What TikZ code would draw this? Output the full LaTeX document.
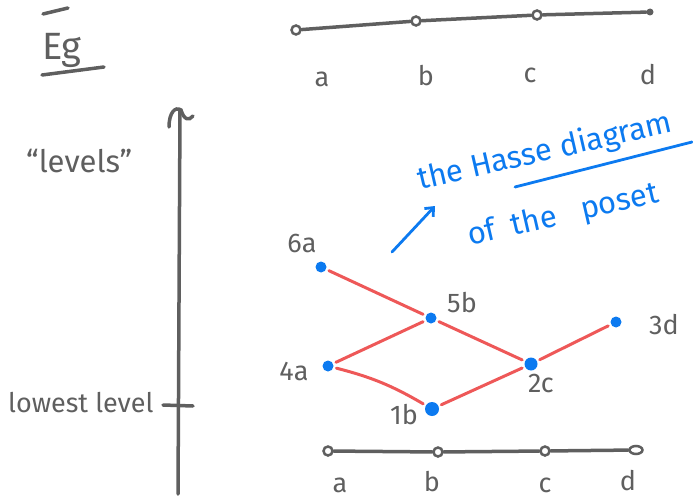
\documentclass[tikz,border=0pt]{standalone}
\usepackage{fontspec}
\setmainfont{Fira Sans}
\usepackage{xcolor}
\usetikzlibrary{arrows.meta,positioning,shapes.geometric}
\definecolor{pen}{RGB}{95,95,95}
\definecolor{inkblue}{RGB}{12,122,240}
\definecolor{inkred}{RGB}{238,88,88}

\begin{document}
\begin{tikzpicture}[x=1pt, y=-1pt,
    hand/.style={text=pen, inner sep=0, font=\fontsize{27}{30}\selectfont},
    note/.style={text=inkblue, inner sep=0, rotate=13, anchor=base west,
                 font=\fontsize{31}{34}\selectfont},
    tick/.style={circle, draw=pen, line width=2.5pt, inner sep=0, minimum size=9pt},
    pt/.style={circle, fill=inkblue, inner sep=0, minimum size=11pt},
    pen line/.style={pen, line width=3.5pt, line cap=round},
    rel/.style={inkred, line width=3pt, line cap=round, shorten <=3pt, shorten >=3pt}]

    \useasboundingbox (0,0) rectangle (693,500);

    % heading and the levels axis
    \node[hand, font=\fontsize{38}{40}\selectfont, anchor=base west] (eg) at (42,60) {Eg};
    \draw[pen line] (43,14) -- (68,8);
    \draw[pen line] (42,75) -- (104,67);
    \node[hand, font=\fontsize{31}{34}\selectfont, anchor=base west] (levels) at (26,172) {“levels”};
    \node[hand, anchor=base west] (lowest) at (8,412) {lowest level};
    \coordinate (axtop) at (180,110);
    \coordinate (axbot) at (178,494);
    \draw[pen line] (axbot) -- (axtop);
    \draw[pen line] (169,127) .. controls (169,113) and (175,106) .. (181,110)
                    .. controls (184,120) and (189,121) .. (193,116);
    \draw[pen line] (163,405) -- (193,406);

    % the chain on top
    \node[tick] (ta) at (296,30) {};
    \node[tick] (tb) at (416,21) {};
    \node[tick] (tc) at (537,15) {};
    \node[circle, fill=pen, inner sep=0, minimum size=7pt] (td) at (650,12) {};
    \draw[pen line] (ta) -- (tb);
    \draw[pen line] (tb) -- (tc);
    \draw[pen line] (tc) -- (td);
    \node[hand, anchor=base] (la) at (322,87) {a};
    \node[hand, anchor=base] (lb) at (426,86) {b};
    \node[hand, anchor=base] (lc) at (530,83) {c};
    \node[hand, anchor=base] (ld) at (648,85) {d};

    % the chain below
    \node[tick] (ba) at (328,451) {};
    \node[tick] (bb) at (438,452) {};
    \node[tick] (bc) at (545,451) {};
    \node[tick, ellipse, minimum width=13pt, minimum height=8pt] (bd) at (636,450) {};
    \draw[pen line] (ba) -- (bb);
    \draw[pen line] (bb) -- (bc);
    \draw[pen line] (bc) -- (bd);
    \node[hand, anchor=base] (ma) at (340,492) {a};
    \node[hand, anchor=base] (mb) at (432,491) {b};
    \node[hand, anchor=base] (mc) at (545,492) {c};
    \node[hand, anchor=base] (md) at (628,490) {d};

    % the poset
    \node[pt] (p6a) at (321,267) {};
    \node[pt] (p5b) at (431,318) {};
    \node[pt] (p3d) at (616,322) {};
    \node[pt] (p4a) at (328,366) {};
    \node[pt, minimum size=13pt] (p2c) at (531,364) {};
    \node[pt, minimum size=14pt] (p1b) at (432,409) {};
    \node[hand, anchor=base] (l6a) at (302,252) {6a};
    \node[hand, anchor=base] (l5b) at (462,312) {5b};
    \node[hand, anchor=base] (l3d) at (664,334) {3d};
    \node[hand, anchor=base] (l4a) at (294,380) {4a};
    \node[hand, anchor=base] (l2c) at (541,392) {2c};
    \node[hand, anchor=base] (l1b) at (404,424) {1b};

    \draw[rel] (p6a) -- (p5b);
    \draw[rel] (p4a) -- (p5b);
    \draw[rel] (p5b) -- (p2c);
    \draw[rel] (p4a) to[bend left=8] (p1b);
    \draw[rel] (p1b) -- (p2c);
    \draw[rel] (p2c) -- (p3d);

    % the note
    \node[note] (hasse) at (420,190) {the Hasse diagram};
    \node[note] (poset) at (470,246) {of~~the~~~poset};
    \coordinate (ulstart) at (515,187);
    \coordinate (ulend) at (692,142);
    \draw[inkblue, line width=2.8pt, line cap=round] (ulstart) -- (ulend);
    \coordinate (arrfrom) at (392,252);
    \coordinate (arrto) at (435,206);
    \draw[inkblue, line width=2.8pt, line cap=round,
          -{Straight Barb[length=7pt, width=12pt]}] (arrfrom) -- (arrto);
\end{tikzpicture}
\end{document}
